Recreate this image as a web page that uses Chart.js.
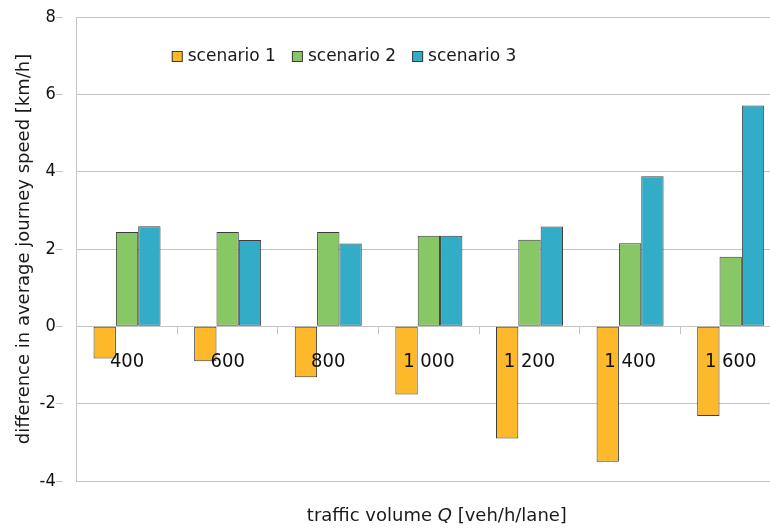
<!DOCTYPE html>
<html>
<head>
<meta charset="utf-8">
<script src="https://cdn.jsdelivr.net/npm/chart.js@4"></script>
<style>
  html, body { margin: 0; padding: 0; background: #fff; overflow: hidden; }
  #wrap { width: 770px; height: 530px; overflow: hidden; }
</style>
</head>
<body>
<div id="wrap"><canvas id="speed_chart" width="781" height="530"></canvas></div>
<script>
var volumes = ['400', '600', '800', '1 000', '1 200', '1 400', '1 600'];
var scenario1 = [-0.83, -0.90, -1.32, -1.76, -2.90, -3.50, -2.32];
var scenario2 = [2.44, 2.44, 2.44, 2.34, 2.24, 2.15, 1.80];
var scenario3 = [2.59, 2.23, 2.14, 2.34, 2.58, 3.88, 5.71];
var yTicks = [-4, -2, 0, 2, 4, 6, 8];

var fontName = '"DejaVu Sans", Verdana, sans-serif';
var narrowFont = '"DejaVu Sans Condensed", "DejaVu Sans", sans-serif';
var gridGrey = '#c4c4c4';
var edge = '#3c3c3c';

// legend drawn inside the plot, one row, a bit right of the y axis
var innerLegend = {
    id: 'innerLegend',
    afterDraw: function (chart) {
        var ctx = chart.ctx;
        var x = chart.chartArea.left + 95;
        var y = chart.chartArea.top + 34;
        ctx.save();
        ctx.font = '17px ' + fontName;
        ctx.textBaseline = 'middle';
        chart.data.datasets.forEach(function (ds) {
            ctx.fillStyle = ds.backgroundColor;
            ctx.fillRect(x, y, 11, 11);
            ctx.strokeStyle = ds.borderColor;
            ctx.lineWidth = 1;
            ctx.strokeRect(x + 0.5, y + 0.5, 10, 10);
            ctx.fillStyle = '#1a1a1a';
            ctx.fillText(ds.label, x + 16, y + 6);
            x += 16 + ctx.measureText(ds.label).width + 16;
        });
        ctx.restore();
    }
};

// x axis title with italic Q, sits under the plot
var xTitle = {
    id: 'xTitle',
    afterDraw: function (chart) {
        var ctx = chart.ctx;
        var parts = [
            { t: 'traffic volume ', f: '18px ' + fontName },
            { t: 'Q', f: 'italic 18px ' + fontName },
            { t: ' [veh/h/lane]', f: '18px ' + fontName }
        ];
        ctx.save();
        var total = 0;
        parts.forEach(function (p) { ctx.font = p.f; p.w = ctx.measureText(p.t).width; total += p.w; });
        var cx = (chart.chartArea.left + chart.chartArea.right) / 2 + 8;
        var x = cx - total / 2;
        var y = chart.height - 14;
        ctx.fillStyle = '#1a1a1a';
        ctx.textBaseline = 'middle';
        parts.forEach(function (p) { ctx.font = p.f; ctx.fillText(p.t, x, y); x += p.w; });
        ctx.restore();
    }
};

function buildSpeedChart() {
    var el = document.getElementById('speed_chart');
    new Chart(el, {
        type: 'bar',
        data: {
            labels: volumes,
            datasets: [{
                label: 'scenario 1',
                data: scenario1,
                backgroundColor: '#FDB92A',
                borderColor: edge,
                borderWidth: 1,
                borderSkipped: false
            },
            {
                label: 'scenario 2',
                data: scenario2,
                backgroundColor: '#88C765',
                borderColor: edge,
                borderWidth: 1,
                borderSkipped: false
            },
            {
                label: 'scenario 3',
                data: scenario3,
                backgroundColor: '#33ACC8',
                borderColor: edge,
                borderWidth: 1,
                borderSkipped: false
            }]
        },
        options: {
            responsive: false,
            animation: false,
            layout: { padding: { top: 17, left: 10, right: 0, bottom: 49 } },
            datasets: { bar: { barPercentage: 1, categoryPercentage: 0.666 } },
            plugins: {
                legend: { display: false },
                tooltip: { enabled: false }
            },
            scales: {
                x: {
                    position: { y: 0 },
                    grid: {
                        drawOnChartArea: false,
                        drawTicks: true,
                        tickLength: 7,
                        color: gridGrey,
                        offset: true
                    },
                    border: { display: true, color: gridGrey },
                    ticks: {
                        color: '#111',
                        padding: 16,
                        maxRotation: 0,
                        z: 1,
                        font: { family: narrowFont, size: 20 }
                    }
                },
                y: {
                    min: -4,
                    max: 8,
                    afterBuildTicks: function (axis) {
                        axis.ticks = yTicks.map(function (v) { return { value: v }; });
                    },
                    grid: { color: gridGrey, tickLength: 21, tickBorderDash: [7, 40] },
                    border: { display: true, color: gridGrey },
                    ticks: {
                        color: '#111',
                        padding: 0,
                        font: { family: narrowFont, size: 18 }
                    },
                    title: {
                        display: true,
                        text: 'difference in average journey speed [km/h]',
                        color: '#1a1a1a',
                        padding: { top: 4, bottom: 4 },
                        font: { family: fontName, size: 18 }
                    }
                }
            }
        },
        plugins: [innerLegend, xTitle]
    });
}

buildSpeedChart();
</script>
</body>
</html>
